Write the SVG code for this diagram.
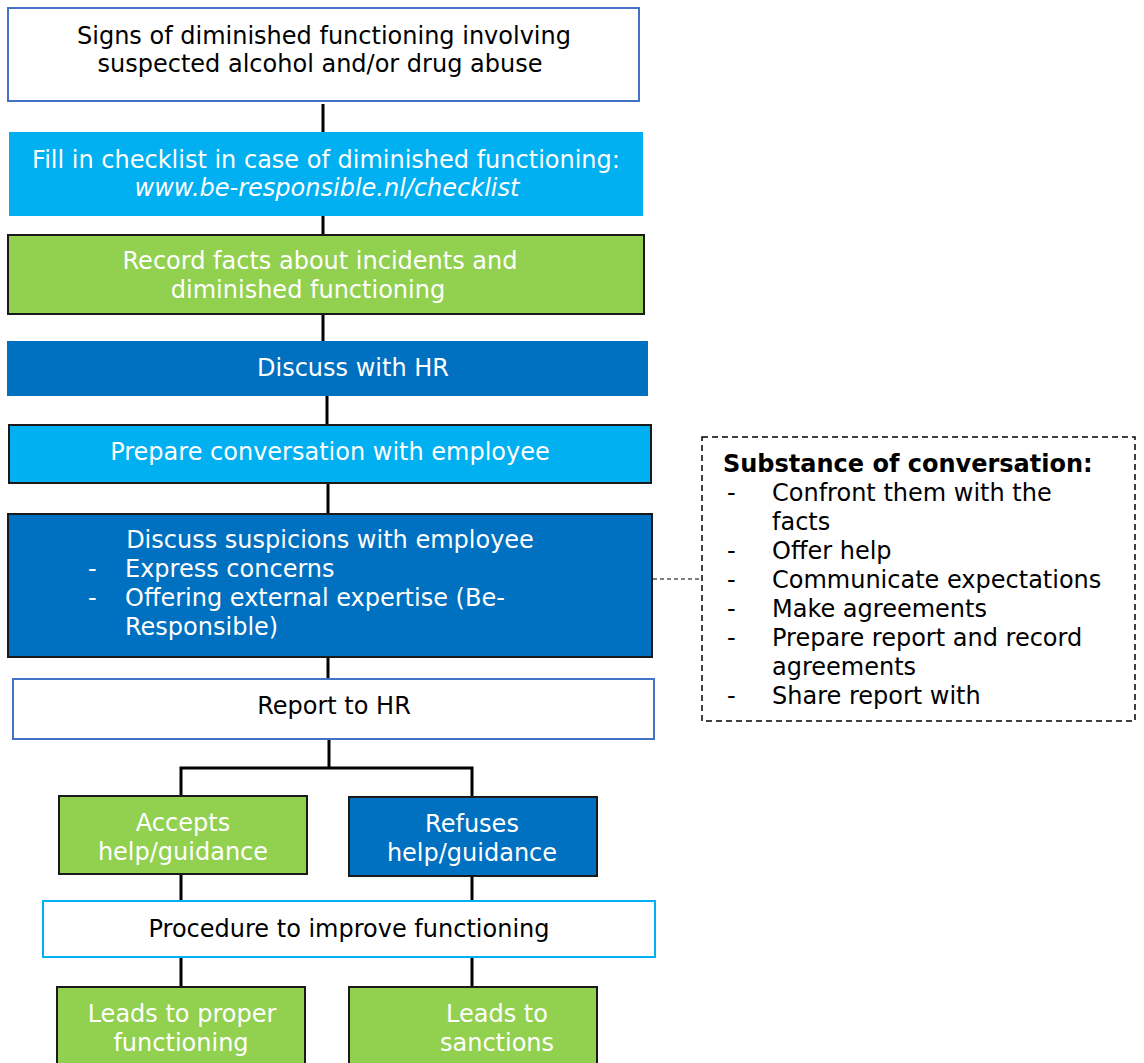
<svg xmlns="http://www.w3.org/2000/svg" width="1144" height="1063" viewBox="0 0 1144 1063">
  <style>
    text { font-family: "DejaVu Sans", Verdana, sans-serif; font-size: 24px; }
    .c { text-anchor: middle; }
    .w { fill: #ffffff; }
    .k { fill: #000000; }
    .b { font-weight: bold; }
    .i { font-style: italic; }
    .white { fill: #ffffff; stroke: #4472C4; stroke-width: 2; }
    .cyan { fill: #00B0F0; }
    .cyanS { fill: #00B0F0; stroke: #1a1a1a; stroke-width: 2; }
    .green { fill: #92D050; stroke: #1a1a1a; stroke-width: 2; }
    .navy { fill: #0070C0; }
    .navyS { fill: #0070C0; stroke: #1a1a1a; stroke-width: 2; }
    .line { stroke: #000000; stroke-width: 3; fill: none; }
    .dash { stroke: #000000; stroke-width: 1.5; fill: none; stroke-dasharray: 6 4; }
    .dashThin { stroke: #000000; stroke-width: 1.2; fill: none; stroke-dasharray: 4 3; }
  </style>

  <g id="connectors">
    <line class="line" x1="323" y1="104" x2="323" y2="132"/>
    <line class="line" x1="323" y1="216" x2="323" y2="234"/>
    <line class="line" x1="323" y1="314" x2="323" y2="341"/>
    <line class="line" x1="327" y1="396" x2="327" y2="425"/>
    <line class="line" x1="328" y1="483" x2="328" y2="514"/>
    <line class="line" x1="328" y1="657" x2="328" y2="679"/>
    <line class="line" x1="329" y1="739" x2="329" y2="768"/>
    <polyline class="line" points="181,797 181,768 472,768 472,797"/>
    <line class="line" x1="181" y1="874" x2="181" y2="901"/>
    <line class="line" x1="472" y1="876" x2="472" y2="901"/>
    <line class="line" x1="181" y1="957" x2="181" y2="987"/>
    <line class="line" x1="472" y1="957" x2="472" y2="987"/>
    <line class="dashThin" x1="653" y1="579" x2="702" y2="579"/>
  </g>

  <g id="signs">
    <rect class="white" x="8" y="8" width="631" height="93"/>
    <text class="c k" x="324" y="44">Signs of diminished functioning involving</text>
    <text class="c k" x="320" y="72">suspected alcohol and/or drug abuse</text>
  </g>

  <g id="checklist">
    <rect class="cyan" x="9" y="132" width="634" height="84"/>
    <text class="c w" x="326" y="168">Fill in checklist in case of diminished functioning:</text>
    <text class="c w i" x="327" y="196">www.be-responsible.nl/checklist</text>
  </g>

  <g id="record">
    <rect class="green" x="8" y="235" width="636" height="79"/>
    <text class="c w" x="320" y="269">Record facts about incidents and</text>
    <text class="c w" x="308" y="298">diminished functioning</text>
  </g>

  <g id="discuss-hr">
    <rect class="navy" x="7" y="341" width="641" height="55"/>
    <text class="c w" x="353" y="376">Discuss with HR</text>
  </g>

  <g id="prepare">
    <rect class="cyanS" x="9" y="425" width="642" height="58"/>
    <text class="c w" x="330" y="460">Prepare conversation with employee</text>
  </g>

  <g id="discuss-employee">
    <rect class="navyS" x="8" y="514" width="644" height="143"/>
    <text class="c w" x="330" y="548">Discuss suspicions with employee</text>
    <text class="w" x="88" y="577">-</text>
    <text class="w" x="125" y="577">Express concerns</text>
    <text class="w" x="88" y="606">-</text>
    <text class="w" x="125" y="606">Offering external expertise (Be-</text>
    <text class="w" x="125" y="635">Responsible)</text>
  </g>

  <g id="report">
    <rect class="white" x="13" y="679" width="641" height="60"/>
    <text class="c k" x="334" y="714">Report to HR</text>
  </g>

  <g id="accepts">
    <rect class="green" x="59" y="796" width="248" height="78"/>
    <text class="c w" x="183" y="831">Accepts</text>
    <text class="c w" x="183" y="860">help/guidance</text>
  </g>

  <g id="refuses">
    <rect class="navyS" x="349" y="797" width="248" height="79"/>
    <text class="c w" x="472" y="832">Refuses</text>
    <text class="c w" x="472" y="861">help/guidance</text>
  </g>

  <g id="procedure">
    <rect fill="#ffffff" stroke="#00B0F0" stroke-width="2" x="43" y="901" width="612" height="56"/>
    <text class="c k" x="349" y="937">Procedure to improve functioning</text>
  </g>

  <g id="proper">
    <rect class="green" x="57" y="987" width="248" height="90"/>
    <text class="c w" x="182" y="1022">Leads to proper</text>
    <text class="c w" x="181" y="1051">functioning</text>
  </g>

  <g id="sanctions">
    <rect class="green" x="349" y="987" width="248" height="90"/>
    <text class="c w" x="497" y="1022">Leads to</text>
    <text class="c w" x="497" y="1051">sanctions</text>
  </g>

  <g id="substance">
    <rect class="dash" x="702" y="437" width="433" height="284"/>
    <text class="k b" x="723" y="472">Substance of conversation:</text>
    <g class="k">
      <text x="727" y="501">-</text>
      <text x="772" y="501">Confront them with the</text>
      <text x="772" y="530">facts</text>
      <text x="727" y="559">-</text>
      <text x="772" y="559">Offer help</text>
      <text x="727" y="588">-</text>
      <text x="772" y="588">Communicate expectations</text>
      <text x="727" y="617">-</text>
      <text x="772" y="617">Make agreements</text>
      <text x="727" y="646">-</text>
      <text x="772" y="646">Prepare report and record</text>
      <text x="772" y="675">agreements</text>
      <text x="727" y="704">-</text>
      <text x="772" y="704">Share report with</text>
    </g>
  </g>
</svg>
